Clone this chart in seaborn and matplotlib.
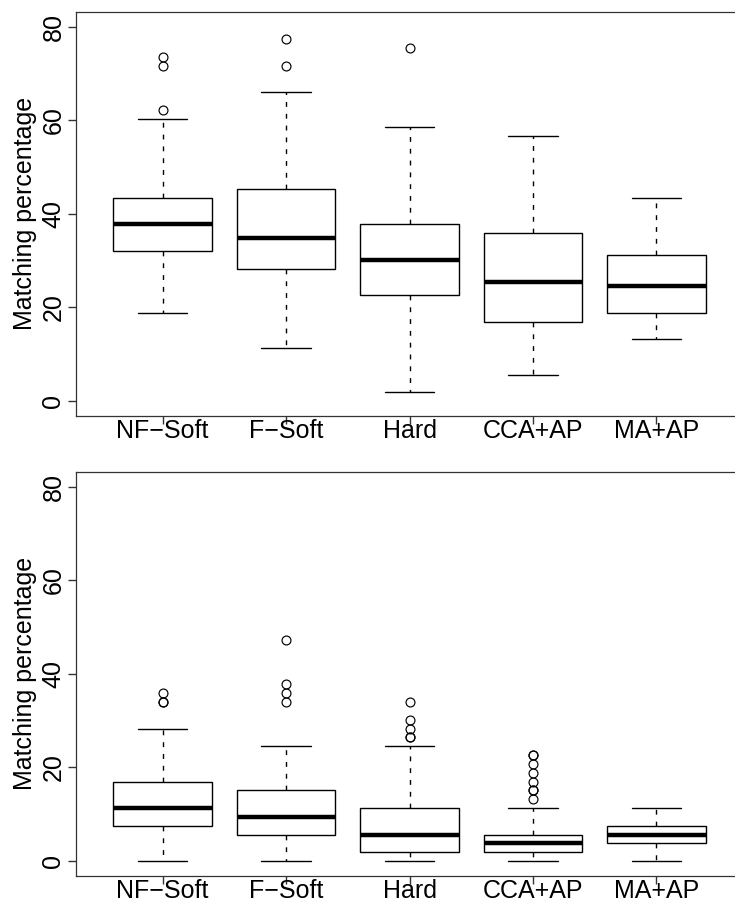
import pandas as pd
import matplotlib.pyplot as plt
import seaborn as sns

# Whisker ends, quartiles, median, outliers per method
methods = ['NF\u2212Soft', 'F\u2212Soft', 'Hard', 'CCA+AP', 'MA+AP']

# top panel
top_lo = [18.87, 11.32, 1.89, 5.66, 13.21]
top_q1 = [32.00, 28.30, 22.64, 16.98, 18.87]
top_med = [37.74, 34.91, 30.19, 25.47, 24.53]
top_q3 = [43.40, 45.28, 37.74, 35.85, 31.13]
top_hi = [60.38, 66.04, 58.49, 56.60, 43.40]
top_out = [[62.26, 71.70, 73.58], [71.70, 77.36], [75.47], [], []]

# bottom panel
bot_lo = [0.0, 0.0, 0.0, 0.0, 0.0]
bot_q1 = [7.55, 5.66, 1.89, 1.88, 3.77]
bot_med = [11.32, 9.43, 5.66, 3.77, 5.66]
bot_q3 = [16.98, 15.09, 11.32, 5.66, 7.55]
bot_hi = [28.30, 24.53, 24.53, 11.30, 11.32]
bot_out = [[33.96, 33.96, 35.85],
           [33.96, 35.85, 37.74, 47.17],
           [26.42, 26.42, 28.30, 30.19, 33.96],
           [13.21, 15.09, 15.09, 16.98, 18.87, 20.75, 22.64, 22.64],
           []]


def group_values(lo, q1, med, q3, hi, out):
    # 4k+1 points so that numpy's quartiles land exactly on q1 / med / q3
    k = len(out) + 1
    return [lo] + [q1] * k + [med] * k + [q3] * k + [hi] + list(out)


def make_frame(lo, q1, med, q3, hi, out):
    rows = []
    for i, m in enumerate(methods):
        for v in group_values(lo[i], q1[i], med[i], q3[i], hi[i], out[i]):
            rows.append({'method': m, 'value': v})
    return pd.DataFrame(rows)


df_top = make_frame(top_lo, top_q1, top_med, top_q3, top_hi, top_out)
df_bot = make_frame(bot_lo, bot_q1, bot_med, bot_q3, bot_hi, bot_out)

sns.set_style('ticks')
plt.rcParams['font.family'] = ['Liberation Sans', 'DejaVu Sans']
plt.rcParams['lines.scale_dashes'] = False

fig = plt.figure(figsize=(7.35, 9.05), dpi=100)
ax_top = fig.add_axes([0.1038, 0.5403, 0.9067, 0.4467])
ax_bot = fig.add_axes([0.1038, 0.0320, 0.9067, 0.4467])

for ax, df in [(ax_top, df_top), (ax_bot, df_bot)]:
    sns.boxplot(data=df, x='method', y='value', order=methods, ax=ax,
                width=0.8, whis=1.5, color='white', linecolor='black',
                linewidth=1.0,
                medianprops=dict(linewidth=3.2, color='black'),
                whiskerprops=dict(linestyle=(0, (3.5, 5.0)), linewidth=1.0),
                flierprops=dict(marker='o', markerfacecolor='none',
                                markeredgecolor='black', markersize=6.4,
                                markeredgewidth=0.85))
    ax.set_xlim(-0.7, 4.7)
    ax.set_ylim(-3.2, 83.2)
    ax.set_yticks([0, 20, 40, 60, 80])
    ax.set_xlabel('')
    ax.set_ylabel('Matching percentage', fontsize=18, labelpad=3,
                  color='black')
    ax.tick_params(axis='both', labelsize=18, length=5.8, width=1.0,
                   color='#333333', labelcolor='black', direction='out',
                   bottom=True, left=True)
    ax.tick_params(axis='x', pad=-3.5)
    ax.tick_params(axis='y', pad=2)
    for lab in ax.get_yticklabels():
        lab.set_rotation(90)
        lab.set_va('center')
    for s in ax.spines.values():
        s.set_visible(True)
        s.set_color('#333333')
        s.set_linewidth(0.9)

plt.savefig('out.png', dpi=100)
